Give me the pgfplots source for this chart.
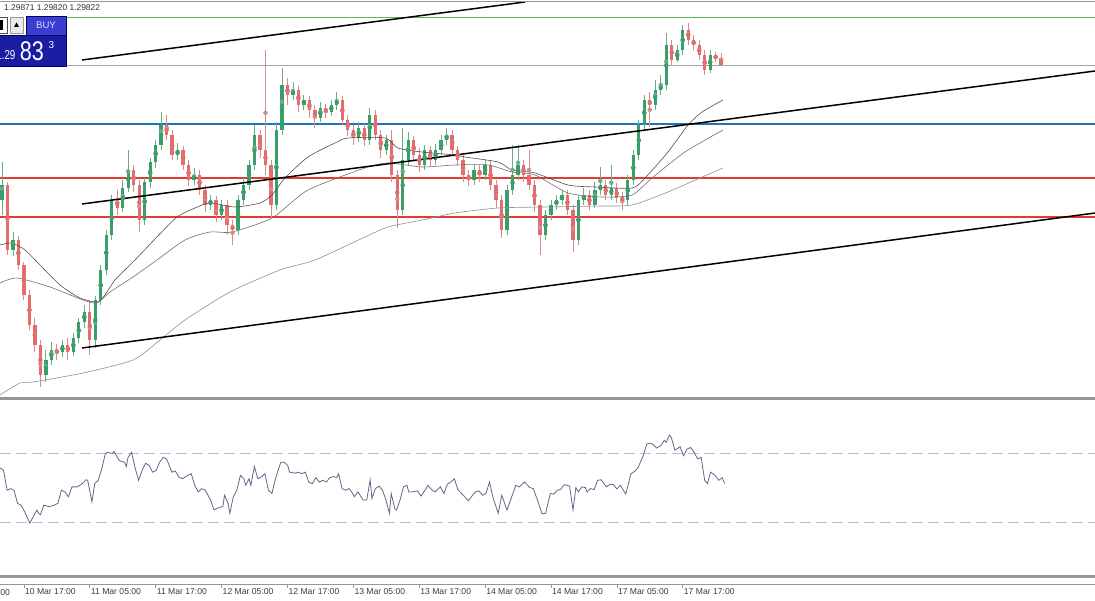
\documentclass[border=0pt]{standalone}
\usepackage{pgfplots}
\pgfplotsset{compat=1.18}
\usepackage{pgfplotstable}
\usepackage{fontspec}
\setmainfont{Liberation Sans}

\definecolor{upc}{RGB}{58,158,106}
\definecolor{dnc}{RGB}{228,108,108}
\definecolor{wup}{RGB}{110,170,140}
\definecolor{wdn}{RGB}{212,140,140}
\definecolor{ma1}{RGB}{80,80,80}
\definecolor{ma2}{RGB}{112,112,112}
\definecolor{ma3}{RGB}{145,145,145}
\definecolor{hgreen}{RGB}{90,185,90}
\definecolor{hgrey}{RGB}{165,165,165}
\definecolor{hblue}{RGB}{30,115,185}
\definecolor{hred}{RGB}{225,60,50}
\definecolor{rsic}{RGB}{100,100,135}
\definecolor{rsil}{RGB}{188,188,208}
\definecolor{sepc}{RGB}{150,150,150}
\definecolor{labc}{RGB}{60,60,60}
\definecolor{buyt}{RGB}{58,62,208}
\definecolor{buyb}{RGB}{26,28,162}

\pgfplotstableread{
i o h l c
-4 1.29284 1.29436 1.29224 1.29344
-3 1.29344 1.29356 1.29064 1.29084
-2 1.29084 1.29156 1.29060 1.29124
-1 1.29124 1.29140 1.29004 1.29024
0 1.29024 1.29036 1.28884 1.28904
1 1.28904 1.28924 1.28764 1.28784
2 1.28784 1.28812 1.28676 1.28704
3 1.28704 1.28724 1.28536 1.28584
4 1.28584 1.28684 1.28556 1.28644
5 1.28644 1.28716 1.28624 1.28684
6 1.28684 1.28708 1.28644 1.28676
7 1.28676 1.28724 1.28656 1.28704
8 1.28704 1.28732 1.28644 1.28676
9 1.28676 1.28752 1.28660 1.28732
10 1.28732 1.28812 1.28712 1.28796
11 1.28796 1.28864 1.28772 1.28836
12 1.28836 1.28884 1.28664 1.28724
13 1.28724 1.28900 1.28692 1.28884
14 1.28884 1.29024 1.28864 1.29004
15 1.29004 1.29164 1.28984 1.29144
16 1.29144 1.29304 1.29124 1.29284
17 1.29284 1.29324 1.29224 1.29252
18 1.29252 1.29364 1.29236 1.29332
19 1.29332 1.29484 1.29316 1.29404
20 1.29404 1.29424 1.29316 1.29344
21 1.29344 1.29364 1.29156 1.29204
22 1.29204 1.29372 1.29184 1.29356
23 1.29356 1.29452 1.29332 1.29436
24 1.29436 1.29524 1.29412 1.29504
25 1.29504 1.29636 1.29484 1.29584
26 1.29584 1.29624 1.29524 1.29544
27 1.29544 1.29564 1.29444 1.29464
28 1.29464 1.29512 1.29444 1.29484
29 1.29484 1.29500 1.29404 1.29424
30 1.29424 1.29444 1.29340 1.29364
31 1.29364 1.29412 1.29344 1.29384
32 1.29384 1.29404 1.29304 1.29324
33 1.29324 1.29344 1.29236 1.29264
34 1.29264 1.29304 1.29244 1.29284
35 1.29284 1.29300 1.29196 1.29224
36 1.29224 1.29284 1.29204 1.29264
37 1.29264 1.29284 1.29144 1.29184
38 1.29184 1.29204 1.29104 1.29164
39 1.29164 1.29304 1.29144 1.29284
40 1.29284 1.29372 1.29264 1.29344
41 1.29344 1.29444 1.29324 1.29424
42 1.29424 1.29584 1.29404 1.29544
43 1.29544 1.29564 1.29452 1.29484
44 1.29484 1.29884 1.29384 1.29424
45 1.29424 1.29444 1.29212 1.29264
46 1.29264 1.29596 1.29244 1.29564
47 1.29564 1.29812 1.29544 1.29744
48 1.29744 1.29772 1.29664 1.29704
49 1.29704 1.29756 1.29684 1.29724
50 1.29724 1.29740 1.29636 1.29664
51 1.29664 1.29704 1.29644 1.29684
52 1.29684 1.29700 1.29612 1.29644
53 1.29644 1.29664 1.29572 1.29612
54 1.29612 1.29676 1.29596 1.29652
55 1.29652 1.29668 1.29612 1.29636
56 1.29636 1.29684 1.29620 1.29664
57 1.29664 1.29716 1.29644 1.29684
58 1.29684 1.29700 1.29584 1.29604
59 1.29604 1.29624 1.29540 1.29564
60 1.29564 1.29584 1.29504 1.29532
61 1.29532 1.29596 1.29516 1.29572
62 1.29572 1.29588 1.29500 1.29524
63 1.29524 1.29652 1.29504 1.29624
64 1.29624 1.29644 1.29524 1.29544
65 1.29544 1.29564 1.29452 1.29484
66 1.29484 1.29544 1.29464 1.29524
67 1.29524 1.29564 1.29356 1.29384
68 1.29384 1.29404 1.29172 1.29244
69 1.29244 1.29572 1.29224 1.29444
70 1.29444 1.29556 1.29424 1.29524
71 1.29524 1.29540 1.29436 1.29464
72 1.29464 1.29492 1.29396 1.29424
73 1.29424 1.29504 1.29404 1.29484
74 1.29484 1.29500 1.29420 1.29444
75 1.29444 1.29508 1.29424 1.29484
76 1.29484 1.29544 1.29464 1.29524
77 1.29524 1.29572 1.29504 1.29544
78 1.29544 1.29564 1.29464 1.29484
79 1.29484 1.29500 1.29420 1.29444
80 1.29444 1.29464 1.29356 1.29384
81 1.29384 1.29404 1.29340 1.29364
82 1.29364 1.29424 1.29344 1.29404
83 1.29404 1.29424 1.29356 1.29384
84 1.29384 1.29444 1.29364 1.29424
85 1.29424 1.29444 1.29324 1.29344
86 1.29344 1.29364 1.29252 1.29284
87 1.29284 1.29304 1.29132 1.29164
88 1.29164 1.29344 1.29144 1.29324
89 1.29324 1.29504 1.29304 1.29384
90 1.29384 1.29504 1.29364 1.29424
91 1.29424 1.29444 1.29356 1.29384
92 1.29384 1.29484 1.29324 1.29344
93 1.29344 1.29364 1.29236 1.29264
94 1.29264 1.29284 1.29064 1.29144
95 1.29144 1.29244 1.29124 1.29224
96 1.29224 1.29284 1.29204 1.29264
97 1.29264 1.29304 1.29244 1.29284
98 1.29284 1.29324 1.29264 1.29304
99 1.29304 1.29324 1.29224 1.29244
100 1.29244 1.29264 1.29076 1.29124
101 1.29124 1.29304 1.29104 1.29284
102 1.29284 1.29332 1.29264 1.29304
103 1.29304 1.29324 1.29244 1.29264
104 1.29264 1.29356 1.29252 1.29324
105 1.29324 1.29416 1.29304 1.29344
106 1.29344 1.29364 1.29284 1.29304
107 1.29304 1.29424 1.29284 1.29332
108 1.29332 1.29352 1.29272 1.29292
109 1.29292 1.29316 1.29244 1.29284
110 1.29284 1.29384 1.29264 1.29364
111 1.29364 1.29484 1.29344 1.29464
112 1.29464 1.29604 1.29444 1.29584
113 1.29584 1.29704 1.29564 1.29684
114 1.29684 1.29716 1.29576 1.29664
115 1.29664 1.29764 1.29644 1.29724
116 1.29724 1.29784 1.29704 1.29744
117 1.29744 1.29952 1.29724 1.29904
118 1.29904 1.29924 1.29824 1.29844
119 1.29844 1.29904 1.29836 1.29884
120 1.29884 1.29984 1.29864 1.29964
121 1.29964 1.29992 1.29904 1.29924
122 1.29924 1.29944 1.29884 1.29904
123 1.29904 1.29924 1.29844 1.29864
124 1.29864 1.29884 1.29784 1.29804
125 1.29804 1.29884 1.29792 1.29864
126 1.29864 1.29876 1.29836 1.29852
127 1.29852 1.29871 1.29820 1.29822
}\ohlc

\pgfplotstableread{
i r
-4.35 61.5
-3.71 60.0
-3.07 48.6
-2.44 49.5
-1.80 48.6
-1.16 41.0
-0.52 40.0
0.12 36.3
1.08 29.6
1.72 33.4
2.36 37.2
2.68 35.3
3.00 34.4
3.64 40.0
4.59 39.1
5.55 40.0
6.19 41.0
6.83 48.6
7.47 47.6
8.11 44.8
8.75 50.5
9.71 50.5
10.67 52.4
11.31 54.6
11.62 54.3
12.39 41.9
12.90 52.4
13.54 54.3
14.18 60.9
14.82 69.4
15.14 70.4
16.10 69.8
16.42 70.9
17.38 65.6
18.34 64.7
18.65 62.2
18.97 67.5
19.61 70.4
20.25 61.5
20.89 54.3
21.53 60.0
22.17 64.1
22.81 62.8
23.45 59.0
24.09 60.0
24.73 64.7
25.37 67.5
26.00 66.6
26.96 59.0
27.60 59.6
28.24 56.2
28.88 55.2
29.84 57.1
30.48 58.1
31.12 51.4
31.76 47.6
32.40 49.5
33.04 48.6
33.99 42.9
34.63 37.2
35.59 38.7
36.23 39.1
36.55 45.7
37.19 41.0
37.51 35.3
38.15 44.8
38.79 48.6
39.43 57.1
40.07 55.2
40.39 51.4
41.02 55.2
41.34 51.4
41.98 62.2
42.62 55.2
43.26 56.2
43.90 58.1
44.54 48.6
45.18 46.7
45.82 55.2
46.78 64.7
47.42 64.7
48.06 62.8
48.38 59.0
49.33 58.4
49.97 59.0
50.61 58.1
51.25 59.0
51.89 53.3
52.53 52.4
53.17 55.8
53.81 53.3
54.45 54.3
55.09 53.3
55.73 55.8
56.36 56.5
57.00 55.8
57.32 58.1
57.96 49.5
58.60 48.6
59.24 49.5
59.88 46.7
60.20 44.8
60.84 47.6
61.80 42.9
62.44 42.9
62.76 48.6
63.07 54.6
63.39 43.8
64.03 49.5
64.67 50.9
65.31 48.6
65.95 42.9
66.59 35.3
66.91 46.7
67.55 38.1
67.87 37.2
68.51 42.9
69.14 50.5
69.78 51.4
70.10 47.6
70.74 47.6
71.70 48.2
72.34 45.2
72.98 48.2
73.62 51.4
74.26 48.9
74.90 47.6
75.22 48.6
75.86 50.5
76.50 46.7
77.13 52.0
77.77 53.3
78.41 55.2
79.05 48.9
80.01 45.7
80.97 42.5
81.61 45.2
82.25 47.6
82.89 48.2
83.53 45.7
84.17 46.7
84.81 53.3
85.44 44.4
86.40 35.3
87.04 45.7
88.00 37.2
88.64 42.9
89.60 51.4
90.24 50.5
91.19 53.3
92.15 50.1
92.79 49.5
93.75 41.0
94.39 34.9
95.03 35.3
95.88 46.7
96.52 46.3
97.15 48.6
97.79 49.1
98.43 51.8
99.39 51.0
100.03 37.2
100.54 50.1
100.99 47.6
101.63 50.5
102.27 50.1
102.59 47.6
103.23 49.5
103.87 48.9
104.50 54.3
105.14 54.6
106.10 50.5
106.74 52.0
107.38 51.8
108.02 49.3
108.66 51.4
109.62 46.3
110.58 58.1
111.22 59.4
111.85 61.5
112.81 68.5
113.45 75.1
114.09 75.7
114.73 74.7
115.24 72.9
116.01 74.2
116.65 77.4
116.97 76.1
117.61 80.4
117.93 78.9
118.57 71.7
119.52 73.6
120.16 68.5
120.80 72.3
121.44 73.2
122.08 70.4
122.72 66.6
123.36 67.5
124.00 54.3
124.51 52.4
125.08 59.0
125.92 57.1
126.55 54.3
127.19 55.8
127.64 52.4
}\rsi

\begin{document}
\begin{tikzpicture}
\useasboundingbox (0pt,0pt) rectangle (1095pt,600pt);

% ---------------- main price panel ----------------
\begin{axis}[at={(0pt,202pt)}, anchor=south west, scale only axis,
  width=1095pt, height=398pt,
  xmin=-4.353, xmax=195.1, ymin=1.28492, ymax=1.30084,
  hide axis, clip=true]
% horizontal levels
\addplot[hgreen, line width=1.0pt] coordinates {(-4.353,1.30012) (195.1,1.30012)};
\addplot[hgrey, line width=0.8pt] coordinates {(-4.353,1.29822) (195.1,1.29822)};
\addplot[hblue, line width=1.2pt] coordinates {(-4.353,1.29588) (195.1,1.29588)};
\addplot[hred, line width=1.2pt] coordinates {(-4.353,1.29372) (195.1,1.29372)};
\addplot[hred, line width=1.2pt] coordinates {(-4.353,1.29216) (195.1,1.29216)};
% wicks
\addplot[only marks, mark=none, forget plot, color=wup,
  error bars/.cd, y dir=both, y explicit, error mark=none,
  error bar style={line width=0.8pt, color=wup}]
  table[x=i, y expr={\thisrow{c}>=\thisrow{o} ? (\thisrow{h}+\thisrow{l})/2 : nan},
        y error expr={(\thisrow{h}-\thisrow{l})/2}] {\ohlc};
\addplot[only marks, mark=none, forget plot, color=wdn,
  error bars/.cd, y dir=both, y explicit, error mark=none,
  error bar style={line width=0.8pt, color=wdn}]
  table[x=i, y expr={\thisrow{c}<\thisrow{o} ? (\thisrow{h}+\thisrow{l})/2 : nan},
        y error expr={(\thisrow{h}-\thisrow{l})/2}] {\ohlc};
% bodies
\addplot[only marks, mark=none, forget plot, color=upc,
  error bars/.cd, y dir=both, y explicit, error mark=none,
  error bar style={line width=3.3pt, color=upc}]
  table[x=i, y expr={\thisrow{c}>=\thisrow{o} ? (\thisrow{o}+\thisrow{c})/2 : nan},
        y error expr={abs(\thisrow{c}-\thisrow{o})/2}] {\ohlc};
\addplot[only marks, mark=none, forget plot, color=dnc,
  error bars/.cd, y dir=both, y explicit, error mark=none,
  error bar style={line width=3.3pt, color=dnc}]
  table[x=i, y expr={\thisrow{c}<\thisrow{o} ? (\thisrow{o}+\thisrow{c})/2 : nan},
        y error expr={abs(\thisrow{c}-\thisrow{o})/2}] {\ohlc};
% moving averages
\addplot[ma1, line width=0.6pt, smooth, tension=0.4] coordinates {
(-4.35,1.29104) (-2.17,1.29112) (0.20,1.29084) (2.93,1.29024) (6.58,1.28944)
(10.22,1.28892) (13.32,1.28876) (14.77,1.28904) (16.59,1.28964) (19.87,1.29036)
(24.24,1.29136) (27.89,1.29216) (31.17,1.29252) (33.90,1.29272) (38.45,1.29256)
(43.01,1.29272) (45.19,1.29304) (47.56,1.29372) (51.75,1.29456) (56.67,1.29512)
(59.03,1.29532) (65.77,1.29532) (68.14,1.29492) (72.51,1.29476) (78.52,1.29464)
(80.35,1.29456) (86.36,1.29436) (88.91,1.29404) (93.10,1.29392) (99.11,1.29344)
(104.03,1.29336) (110.77,1.29332) (113.13,1.29372) (117.32,1.29476) (120.97,1.29584)
(123.52,1.29636) (127.34,1.29684)};
\addplot[ma2, line width=0.6pt, smooth, tension=0.4] coordinates {
(-4.35,1.28952) (-1.26,1.28972) (4.75,1.28936) (10.77,1.28884) (13.32,1.28872)
(15.68,1.28916) (19.87,1.28976) (24.24,1.29044) (29.34,1.29124) (33.90,1.29156)
(37.91,1.29156) (45.19,1.29212) (51.75,1.29324) (62.13,1.29412) (66.32,1.29432)
(72.51,1.29416) (78.52,1.29424) (84.54,1.29424) (88.91,1.29396) (93.10,1.29384)
(99.11,1.29312) (105.30,1.29296) (110.77,1.29304) (114.41,1.29372) (120.42,1.29476)
(127.34,1.29564)};
\addplot[ma3, line width=0.6pt, smooth, tension=0.4] coordinates {
(-4.35,1.28504) (-0.71,1.28552) (1.66,1.28556) (10.77,1.28592) (19.87,1.28644)
(24.79,1.28724) (29.34,1.28804) (37.54,1.28916) (46.65,1.29004) (53.02,1.29044)
(62.13,1.29136) (66.32,1.29176) (72.51,1.29204) (78.52,1.29232) (86.36,1.29252)
(94.92,1.29256) (104.94,1.29260) (110.77,1.29264) (117.32,1.29316) (123.15,1.29372)
(127.34,1.29412)};
% trend lines
\addplot[black, line width=1.5pt] coordinates {(10.58,1.29844) (91.27,1.30076)};
\addplot[black, line width=1.5pt] coordinates {(10.58,1.29268) (195.1,1.29800)};
\addplot[black, line width=1.5pt] coordinates {(10.58,1.28692) (195.1,1.29232)};
\end{axis}

% ---------------- RSI panel ----------------
\begin{axis}[at={(0pt,25.5pt)}, anchor=south west, scale only axis,
  width=1095pt, height=173.5pt,
  xmin=-4.353, xmax=195.1, ymin=0, ymax=100,
  hide axis, clip=true]
\addplot[rsil, line width=0.9pt, dash pattern=on 11pt off 5pt] coordinates {(-4.353,70) (195.1,70)};
\addplot[rsil, line width=0.9pt, dash pattern=on 11pt off 5pt] coordinates {(-4.353,30) (195.1,30)};
\addplot[rsic, line width=0.8pt] table[x=i, y=r] {\rsi};
\end{axis}

% ---------------- time axis ----------------
\begin{axis}[at={(0pt,15.5pt)}, anchor=south west, scale only axis,
  width=1095pt, height=1pt,
  xmin=-4.353, xmax=195.1, ymin=0, ymax=1,
  axis x line=bottom, axis y line=none,
  axis line style={-, draw=sepc, line width=0.9pt},
  xtick={0,12,24,36,48,60,72,84,96,108,120},
  xticklabels={10 Mar 17:00,11 Mar 05:00,11 Mar 17:00,12 Mar 05:00,12 Mar 17:00,13 Mar 05:00,13 Mar 17:00,14 Mar 05:00,14 Mar 17:00,17 Mar 05:00,17 Mar 17:00},
  xtick align=outside, major tick length=3pt,
  tick style={draw=sepc, line width=0.6pt},
  xticklabel style={anchor=north west, inner sep=0pt, xshift=1pt, yshift=-1pt,
    font=\fontsize{8.6}{9}\selectfont, text=labc},
  clip=false]
\addplot[draw=none, forget plot] coordinates {(0,0)};
\end{axis}
\node[anchor=north west, inner sep=0pt, font=\fontsize{8.6}{9}\selectfont, text=labc]
  at (-41pt,11pt) {10 Mar 05:00};

% ---------------- separators and frame ----------------
\fill[sepc] (0pt,199.5pt) rectangle (1095pt,202.5pt);
\fill[sepc] (0pt,22.5pt) rectangle (1095pt,25.3pt);
\draw[sepc, line width=1.1pt] (0pt,598.6pt) -- (1095pt,598.6pt);

% header text
\node[anchor=base west, inner sep=0pt, font=\fontsize{8.4}{9}\selectfont, text=black!80]
  at (4pt,589pt) {1.29871 1.29820 1.29822};

% one-click trading panel
\fill[white] (0pt,534pt) rectangle (66pt,584pt);
\draw[black!70, fill=white, line width=0.6pt] (-2pt,567pt) rectangle (7pt,583pt);
\fill[black] (0pt,570pt) rectangle (2.6pt,580pt);
\draw[black!40, fill=black!8, line width=0.6pt] (10pt,567pt) rectangle (23pt,583pt);
\fill[black] (14pt,573pt) -- (19pt,573pt) -- (16.5pt,577.5pt) -- cycle;
\fill[buyt] (26pt,565pt) rectangle (66pt,584pt);
\draw[black!60!blue, line width=0.6pt] (26pt,565pt) rectangle (66pt,584pt);
\node[font=\fontsize{9.6}{10}\selectfont, text={rgb,255:red,215;green,220;blue,255}] at (46pt,574.3pt) {BUY};
\fill[buyb] (-2pt,534pt) rectangle (66pt,565pt);
\draw[black!60!blue, line width=0.6pt] (-2pt,534pt) rectangle (66pt,565pt);
\node[anchor=base east, inner sep=0pt, xscale=0.75, font=\fontsize{13}{14}\selectfont, white] at (15.5pt,540pt) {1.29};
\node[anchor=base, inner sep=0pt, xscale=0.8, font=\fontsize{27}{28}\selectfont, white] at (31.8pt,539pt) {83};
\node[anchor=base, inner sep=0pt, font=\fontsize{10}{11}\selectfont, white] at (51.5pt,551.8pt) {3};
\end{tikzpicture}
\end{document}
